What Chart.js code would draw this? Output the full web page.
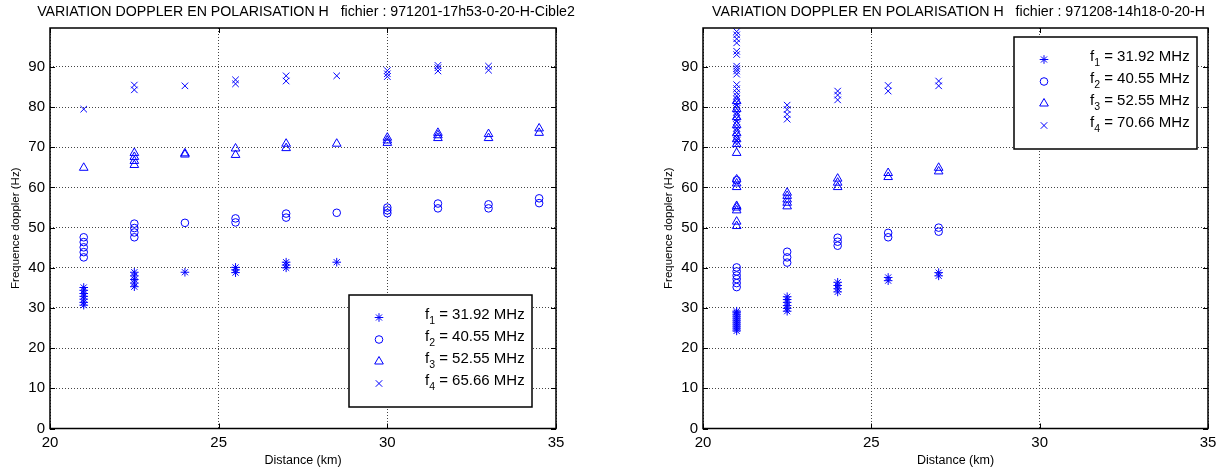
<!DOCTYPE html>
<html>
<head>
<meta charset="utf-8">
<script src="https://cdn.jsdelivr.net/npm/chart.js@4.4.1/dist/chart.umd.min.js"></script>
<style>
  html, body { margin: 0; padding: 0; background: #fff; }
  #wrap { position: relative; width: 1228px; height: 472px; }
  canvas { position: absolute; top: 0; }
</style>
</head>
<body>
<div id="wrap">
  <canvas id="left" width="614" height="472" style="left:0"></canvas>
  <canvas id="right" width="614" height="472" style="left:614px"></canvas>
</div>
<script>
// distances (km), one group of doppler values per distance
const leftDist = [21, 22.5, 24, 25.5, 27, 28.5, 30, 31.5, 33, 34.5];
const leftF1 = [[30.7, 31.4, 32.2, 32.9, 33.6, 34.4, 35.1], [35.3, 36.2, 37.1, 38, 38.9], [38.9], [38.8, 39.5, 40.1], [40, 40.7, 41.4], [41.4], [], [], [], []];
const leftF2 = [[42.6, 43.9, 45.1, 46.4, 47.6], [47.6, 48.8, 49.9, 51], [51.2], [51.3, 52.3], [52.5, 53.5], [53.7], [53.6, 54.3, 55], [54.8, 56], [54.8, 55.8], [56.1, 57.3]];
const leftF3 = [[64.9], [65.6, 66.6, 67.6, 68.6], [68.2, 68.5], [68.1, 69.7], [69.8, 70.9], [70.9], [71.1, 71.7, 72.4], [72.3, 73, 73.6], [72.3, 73.3], [73.6, 74.7]];
const leftF4 = [[79.5], [84.3, 85.5], [85.3], [85.8, 86.8], [86.5, 87.8], [87.8], [87.6, 88.3, 89.1], [89, 89.8, 90.4], [89.2, 90.2], []];
const leftFreqs = ['31.92', '40.55', '52.55', '65.66'];

const rightDist = [21, 22.5, 24, 25.5, 27];
const rightF1 = [[24.3, 24.8, 25.3, 25.8, 26.3, 26.8, 27.3, 27.8, 28.3, 28.8, 29.2], [29.2, 29.9, 30.6, 31.4, 32.1, 32.8], [34, 34.8, 35.6, 36.4], [36.8, 37.6], [38, 38.8]];
const rightF2 = [[35.2, 36.2, 37.2, 38.1, 39.1, 40.1, 61.8], [41.3, 42.6, 44], [45.5, 46.5, 47.5], [47.6, 48.7], [49, 50]];
const rightF3 = [[50.4, 51.5, 54.3, 55, 55.4, 60.1, 61, 62, 68.6, 70.8, 72, 73.5, 75.5, 77.5, 79.5, 81.5], [55.3, 56.2, 57, 57.9, 58.7], [60.1, 61.2, 62.2], [62.6, 63.6], [64, 64.9]];
const rightF4 = [[70.8, 71.6, 72.4, 73.2, 74, 74.8, 75.6, 76.4, 77.2, 78, 78.8, 79.6, 80.4, 81.2, 82, 82.8, 83.6, 84.6, 85.6, 88.2, 89, 89.6, 90.2, 93.1, 93.9, 96, 97, 98, 98.8], [77, 78.2, 79.4, 80.5], [81.8, 83, 84], [84, 85.4], [85.3, 86.5]];
const rightFreqs = ['31.92', '40.55', '52.55', '70.66'];

const xTicks = [20, 25, 30, 35];
const yTicks = [0, 10, 20, 30, 40, 50, 60, 70, 80, 90];

const FONT = '"Liberation Sans", Arial, sans-serif';
const BLUE = '#0000ff';
const markers = ['star', 'circle', 'triangle', 'crossRot'];
const sizes = [4.3, 3.8, 5, 4.6];

function toPoints(dist, groups) {
  return dist.flatMap((d, i) => groups[i].map(v => ({ x: d, y: v })));
}

// matlab style box, inward ticks, title and legend
const frame = {
  id: 'matlabFrame',
  afterDraw(chart, args, opts) {
    const { ctx, chartArea: a, scales } = chart;
    ctx.save();
    ctx.strokeStyle = '#000';
    ctx.lineWidth = 1;
    ctx.beginPath();
    scales.x.ticks.forEach(t => {
      const px = Math.round(scales.x.getPixelForValue(t.value)) + 0.5;
      ctx.moveTo(px, a.bottom); ctx.lineTo(px, a.bottom - 5);
      ctx.moveTo(px, a.top); ctx.lineTo(px, a.top + 5);
    });
    scales.y.ticks.forEach(t => {
      const py = Math.round(scales.y.getPixelForValue(t.value)) + 0.5;
      ctx.moveTo(a.left, py); ctx.lineTo(a.left + 5, py);
      ctx.moveTo(a.right, py); ctx.lineTo(a.right - 5, py);
    });
    ctx.stroke();
    ctx.lineWidth = 1.5;
    ctx.strokeRect(a.left, a.top, a.right - a.left, a.bottom - a.top);

    // title
    ctx.fillStyle = '#000';
    ctx.font = '14.2px ' + FONT;
    ctx.textAlign = 'center';
    ctx.textBaseline = 'alphabetic';
    ctx.fillText(opts.title, (a.left + a.right) / 2 + 3, 15.5);

    // legend
    const b = opts.box;
    ctx.fillStyle = '#fff';
    ctx.fillRect(b.x, b.y, 183, 112);
    ctx.lineWidth = 1.5;
    ctx.strokeStyle = '#000';
    ctx.strokeRect(b.x, b.y, 183, 112);
    opts.freqs.forEach((f, k) => {
      const cy = b.y + 19.5 + k * 22;
      ctx.strokeStyle = BLUE;
      ctx.fillStyle = 'rgba(0,0,0,0)';
      ctx.lineWidth = 1;
      if (Chart.helpers && Chart.helpers.drawPoint) {
        Chart.helpers.drawPoint(ctx, { pointStyle: markers[k], radius: sizes[k], rotation: 0, borderWidth: 1 }, b.x + 30, cy + 3);
      }
      ctx.fillStyle = '#000';
      ctx.textAlign = 'left';
      ctx.textBaseline = 'middle';
      let x = b.x + 76;
      ctx.font = '15px ' + FONT;
      ctx.fillText('f', x, cy);
      x += ctx.measureText('f').width;
      ctx.font = '10.5px ' + FONT;
      ctx.fillText(String(k + 1), x, cy + 6.5);
      x += ctx.measureText(String(k + 1)).width;
      ctx.font = '15px ' + FONT;
      ctx.fillText(' = ' + f + ' MHz', x, cy);
    });
    ctx.restore();
  }
};

function makeChart(id, dist, series, freqs, title, pad, box) {
  return new Chart(document.getElementById(id), {
    type: 'scatter',
    data: {
      datasets: series.map((s, k) => ({
        label: 'f' + (k + 1),
        data: toPoints(dist, s),
        pointStyle: markers[k],
        pointRadius: sizes[k],
        pointHoverRadius: sizes[k],
        borderColor: BLUE,
        backgroundColor: 'rgba(0,0,0,0)',
        pointBorderWidth: 1,
        showLine: false
      }))
    },
    options: {
      responsive: false,
      animation: false,
      devicePixelRatio: 1,
      events: [],
      layout: { padding: pad },
      plugins: {
        legend: { display: false },
        tooltip: { enabled: false },
        matlabFrame: { title, freqs, box }
      },
      scales: {
        x: {
          type: 'linear',
          min: 20,
          max: 35,
          afterBuildTicks: s => { s.ticks = xTicks.map(v => ({ value: v })); },
          afterFit: s => { s.height = 43.5; },
          grid: { color: '#444', lineWidth: 1, drawTicks: false },
          border: { display: false, dash: [1, 2] },
          ticks: { padding: 5, color: '#000', maxRotation: 0, font: { family: FONT, size: 15 } },
          title: {
            display: true, text: 'Distance (km)', color: '#000',
            font: { family: FONT, size: 12.5 }, padding: { top: 0, bottom: 4 }
          }
        },
        y: {
          type: 'linear',
          min: 0,
          max: 99.7,
          afterBuildTicks: s => { s.ticks = yTicks.map(v => ({ value: v })); },
          afterFit: s => { s.width = 50; },
          grid: { color: '#444', lineWidth: 1, drawTicks: false },
          border: { display: false, dash: [1, 2] },
          ticks: { padding: 5, color: '#000', font: { family: FONT, size: 15 } },
          title: {
            display: true, text: 'Frequence doppler (Hz)', color: '#000',
            font: { family: FONT, size: 11.5 }, padding: { top: 9, bottom: 0 }
          }
        }
      }
    },
    plugins: [frame]
  });
}

makeChart('left', leftDist, [leftF1, leftF2, leftF3, leftF4], leftFreqs,
  'VARIATION DOPPLER EN POLARISATION H   fichier : 971201-17h53-0-20-H-Cible2',
  { left: 0, top: 28, right: 58, bottom: 0 }, { x: 349, y: 295 });

makeChart('right', rightDist, [rightF1, rightF2, rightF3, rightF4], rightFreqs,
  'VARIATION DOPPLER EN POLARISATION H   fichier : 971208-14h18-0-20-H',
  { left: 39, top: 28, right: 20, bottom: 0 }, { x: 400, y: 37 });
</script>
</body>
</html>
